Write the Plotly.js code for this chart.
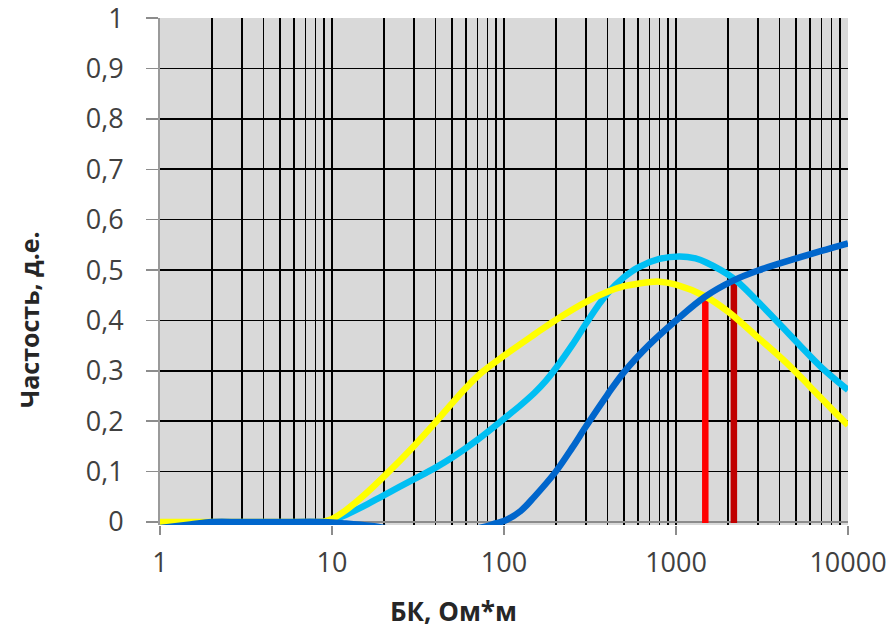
<!DOCTYPE html>
<html>
<head>
<meta charset="utf-8">
<script src="https://cdn.plot.ly/plotly-3.0.1.min.js"></script>
<style>html,body{margin:0;padding:0;background:#fff;}#chart{width:893px;height:629px;}</style>
</head>
<body>
<div id="chart"></div>
<script>
// Yellow series
const yellowX = [1, 1.5, 2, 3, 5, 8, 9, 10, 12, 15, 20, 30, 40, 50, 60, 75, 100, 150, 200, 300, 400, 500, 600, 800, 1000, 1475, 2000, 3000, 4420, 6000, 8000, 10000];
const yellowY = [0, 0, 0, 0, 0, 0, 0.001, 0.006, 0.023, 0.05, 0.09, 0.151, 0.198, 0.236, 0.266, 0.298, 0.33, 0.372, 0.401, 0.437, 0.457, 0.468, 0.473, 0.477, 0.471, 0.448, 0.418, 0.366, 0.315, 0.269, 0.225, 0.192];
// Light blue series
const cyanX = [9.5, 10, 12, 15, 20, 30, 40, 50, 70, 100, 125, 150, 175, 200, 250, 300, 350, 400, 500, 600, 800, 1050, 1300, 1500, 2150, 3000, 4000, 5270, 7000, 10000];
const cyanY = [-0.004, 0.002, 0.014, 0.03, 0.053, 0.085, 0.108, 0.128, 0.163, 0.205, 0.232, 0.256, 0.28, 0.305, 0.352, 0.394, 0.428, 0.454, 0.486, 0.505, 0.522, 0.527, 0.523, 0.515, 0.484, 0.437, 0.393, 0.35, 0.307, 0.262];
// Dark blue series
const blueX = [1, 1.5, 2, 3, 5, 9, 12, 17, 30, 50, 80, 90, 100, 125, 150, 200, 250, 300, 400, 500, 700, 1000, 1475, 2150, 3000, 5000, 7000, 10000];
const blueY = [-0.012, -0.005, 0, 0, 0, 0, -0.003, -0.008, -0.02, -0.02, -0.008, -0.002, 0.002, 0.022, 0.05, 0.1, 0.148, 0.19, 0.253, 0.298, 0.352, 0.4, 0.447, 0.479, 0.499, 0.523, 0.538, 0.553];
// Vertical markers
const redX = [1480, 1480];
const redY = [-0.002, 0.449];
const darkRedX = [2170, 2170];
const darkRedY = [-0.002, 0.482];
// Ticks
const xTickVals = [1, 10, 100, 1000, 10000];
const xTickText = ['1', '10', '100', '1000', '10000'];
const yTickVals = [0, 0.1, 0.2, 0.3, 0.4, 0.5, 0.6, 0.7, 0.8, 0.9, 1];
const yTickText = ['0', '0,1', '0,2', '0,3', '0,4', '0,5', '0,6', '0,7', '0,8', '0,9', '1'];
const minorX = [];
[1, 10, 100, 1000].forEach(d => { for (let k = 2; k <= 9; k++) minorX.push(k * d); });

const LW = 6.5;
const traces = [
  {x: redX, y: redY, mode: 'lines', line: {color: '#FF0000', width: 6.5}},
  {x: darkRedX, y: darkRedY, mode: 'lines', line: {color: '#C00000', width: 6.5}},
  {x: cyanX, y: cyanY, mode: 'lines', line: {color: '#00BFF3', width: LW, shape: 'spline', smoothing: 1}},
  {x: yellowX, y: yellowY, mode: 'lines', line: {color: '#FFFF00', width: LW, shape: 'spline', smoothing: 1}},
  {x: blueX, y: blueY, mode: 'lines', line: {color: '#0066CC', width: LW, shape: 'spline', smoothing: 1}}
];

const tickFont = {family: 'Open Sans, sans-serif', size: 27, color: '#404040'};
const layout = {
  width: 893, height: 629,
  margin: {l: 160, r: 45, t: 18, b: 104, pad: 0},
  paper_bgcolor: '#FFFFFF',
  plot_bgcolor: '#D9D9D9',
  showlegend: false,
  xaxis: {
    type: 'log', range: [0, 4],
    tickmode: 'array', tickvals: xTickVals, ticktext: xTickText,
    ticks: 'outside', ticklen: 9, tickwidth: 1.5, tickcolor: '#8C8C8C',
    tickfont: tickFont, ticklabelstandoff: 5, ticklabeloverflow: 'allow',
    showgrid: true, gridcolor: '#000000', gridwidth: 1.6,
    minor: {tickmode: 'array', tickvals: minorX, showgrid: true, gridcolor: '#000000', gridwidth: 1.6, ticks: ''},
    showline: false, zeroline: false, fixedrange: true
  },
  yaxis: {
    range: [-0.00595, 1.0002],
    tickmode: 'array', tickvals: yTickVals, ticktext: yTickText,
    ticks: 'outside', ticklen: 12, tickwidth: 1.5, tickcolor: '#8C8C8C',
    tickfont: tickFont, ticklabelstandoff: 17, ticklabeloverflow: 'allow',
    showgrid: true, gridcolor: '#000000', gridwidth: 1.6,
    zeroline: true, zerolinecolor: '#8C8C8C', zerolinewidth: 2,
    showline: true, linecolor: '#9A9A9A', linewidth: 2, fixedrange: true
  },
  annotations: [
    {text: '<b>БК, Ом*м</b>', xref: 'paper', yref: 'paper', x: (453 - 160) / 688, y: (629 - 104 - 611) / 507,
     xanchor: 'center', yanchor: 'middle', showarrow: false,
     font: {family: 'Open Sans, sans-serif', size: 26, color: '#262626'}},
    {text: '<b>Частость, д.е.</b>', xref: 'paper', yref: 'paper', x: (29 - 160) / 688, y: (525 - 320) / 507,
     xanchor: 'center', yanchor: 'middle', showarrow: false, textangle: -90,
     font: {family: 'Open Sans, sans-serif', size: 25, color: '#262626'}}
  ]
};
Plotly.newPlot('chart', traces, layout, {displayModeBar: false, staticPlot: true});
</script>
</body>
</html>
